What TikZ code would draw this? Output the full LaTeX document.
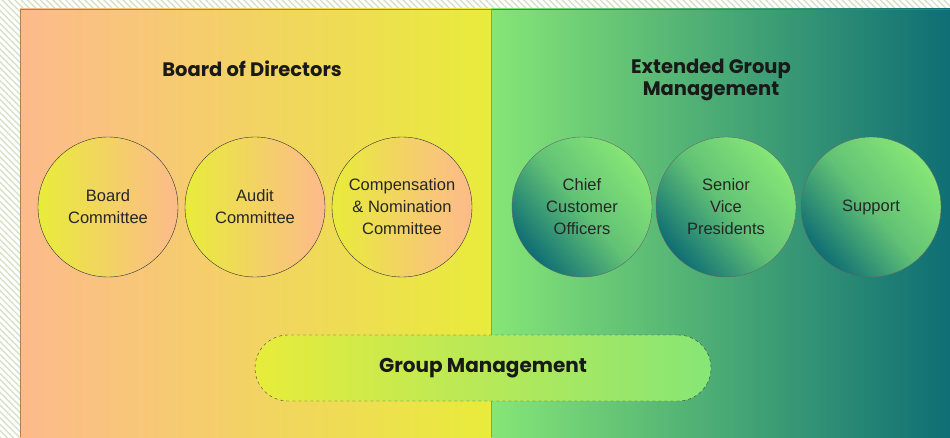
\documentclass[tikz,border=0pt]{standalone}
\usepackage{fontspec}
\setmainfont{Liberation Sans}
\newfontfamily\headfont{Poppins}
\usepackage{tikz}
\usetikzlibrary{shapes.geometric, positioning, calc, patterns.meta}

\definecolor{peach}{HTML}{FDBA8C}
\definecolor{lemon}{HTML}{E8EC3A}
\definecolor{mint}{HTML}{86E676}
\definecolor{deepteal}{HTML}{0E6E74}
\definecolor{hatch}{HTML}{DADFC8}

\begin{document}
\begin{tikzpicture}[
    x=1pt, y=1pt,
    % Styles of the boxes
    panelhead/.style={font=\headfont\bfseries\fontsize{19.5}{22}\selectfont, text=black!90, align=center},
    boardcircle/.style={circle, draw=black!80, thin, minimum size=140pt, inner sep=0pt,
        left color=lemon, right color=peach, align=center, font=\fontsize{16.5}{22}\selectfont, text=black!85},
    groupcircle/.style={circle, draw=black!60, thin, minimum size=140pt, inner sep=0pt,
        bottom color=deepteal, top color=mint, middle color=mint!70!deepteal, shading angle=-50, align=center,
        font=\fontsize{16.5}{22}\selectfont, text=black!85},
    pill/.style={rectangle, rounded corners=33pt, draw=black!75, dashed, thin,
        minimum width=456pt, minimum height=66pt, left color=lemon, right color=mint,
        middle color=lemon!50!mint, font=\headfont\bfseries\fontsize{20}{22}\selectfont, text=black!90}
    ]

    % --- background ---
    \useasboundingbox (0,0) rectangle (950,437);
    \fill[white] (0,0) rectangle (950,437);
    \fill[pattern={Lines[angle=-45, distance=4.5pt, line width=1.4pt]}, pattern color=hatch] (0,0) rectangle (950,437);

    \shade[left color=peach, right color=lemon] (20,0) rectangle (491,428);
    \shade[left color=mint, right color=deepteal] (491,0) rectangle (950,428);
    \draw[color=brown!70!gray] (20,0) -- (20,428) -- (491,428);
    \draw[color=green!30!black!70] (491,428) -- (950,428);
    \draw[color=olive!80] (491,0) -- (491,428);

    % --- left panel ---
    \node[panelhead] (board) at (252,368) {Board of Directors};

    \node[boardcircle] (bcomm) at (108,230) {Board\\Committee};
    \node[boardcircle] (audit) at (255,230) {Audit\\Committee};
    \node[boardcircle] (comp) at (402,230) {Compensation\\\& Nomination\\Committee};

    % --- right panel ---
    \node[panelhead] (egm) at (711,357) {Extended Group\\Management};

    \node[groupcircle] (cco) at (582,230) {Chief\\Customer\\Officers};
    \node[groupcircle] (svp) at (726,230) {Senior\\Vice\\Presidents};
    \node[groupcircle] (supp) at (871,230) {Support};

    % --- bottom ---
    \node[pill] (gm) at (483,69) {Group Management};

\end{tikzpicture}
\end{document}
